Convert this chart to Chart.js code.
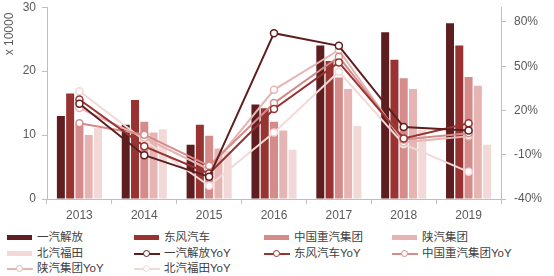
<!DOCTYPE html>
<html>
<head>
<meta charset="utf-8">
<script src="https://cdn.jsdelivr.net/npm/chart.js@4"></script>
<style>
    body { margin: 0; background: #fff; }
    #wrap { position: relative; width: 554px; height: 276px; overflow: hidden; font-family: "Liberation Sans", "Noto Sans CJK SC", sans-serif; }
    #grafico { position: absolute; left: 0; top: -8px; }
    #legenda { position: absolute; left: 0; top: 230px; width: 554px; }
    .item { position: absolute; height: 15px; font-size: 11.5px; color: #404040; line-height: 15px; white-space: nowrap; }
    .item .cx { position: absolute; left: 0; top: 5px; width: 25px; height: 5px; }
    .item .ln { position: absolute; left: 0; top: 6.5px; width: 26px; height: 2px; }
    .item .pt { position: absolute; left: 9px; top: 3.5px; width: 5px; height: 5px; border-radius: 50%; background: #fff; border: 1.5px solid; }
    .item span { position: absolute; left: 30px; top: 0; }
</style>
</head>
<body>
<div id="wrap">
    <canvas id="grafico" width="554" height="236"></canvas>
    <div id="legenda"></div>
</div>
<script>
// dados (x 10000 unidades)
const anos = ['2013', '2014', '2015', '2016', '2017', '2018', '2019'];

const yiqi      = [13.0, 11.6, 8.5, 14.8, 24.0, 26.1, 27.5];
const dongfeng  = [16.5, 15.5, 11.6, 14.2, 21.6, 21.8, 24.0];
const zhongqi   = [11.6, 12.1, 9.9, 12.1, 19.0, 18.9, 19.1];
const shanqi    = [10.0, 10.4, 7.9, 10.7, 17.2, 17.2, 17.7];
const beiqi     = [11.1, 10.9, 7.5, 7.7, 11.4, 10.8, 8.5];

// YoY (%)
const yiqiYoy     = [24.5, -10.3, -25, 72.4, 63.8, 8.8, 6.5];
const dongfengYoy = [27.4, -4.3, -22.7, 21, 52.6, 1, 11.4];
const zhongqiYoy  = [11.4, 3.6, -17.5, 25, 56.4, 0.3, 4.5];
const shanqiYoy   = [21.6, 1.5, -20, 34, 61, -1.5, 2.5];
const beiqiYoy    = [33, -0.2, -31, 5, 46.3, -2.9, -21.6];

const nomes = ['一汽解放', '东风汽车', '中国重汽集团', '陕汽集团', '北汽福田'];
const ticksDireita = [-40, -10, 20, 50, 80];

const CORES = ['#5e1d1f', '#983331', '#d48b89', '#e6b5b3', '#f2d8d7'];
const FONTE = '"Liberation Sans", "Noto Sans CJK SC", sans-serif';

const barras = [yiqi, dongfeng, zhongqi, shanqi, beiqi];
const linhas = [yiqiYoy, dongfengYoy, zhongqiYoy, shanqiYoy, beiqiYoy];

var datasets = [];

for (let i = 0; i < linhas.length; i++) {
    datasets.push({
        type: 'line',
        label: nomes[i] + 'YoY',
        data: linhas[i],
        yAxisID: 'y2',
        borderColor: CORES[i],
        borderWidth: 2,
        pointRadius: 3.5,
        pointBackgroundColor: '#fff',
        pointBorderColor: CORES[i],
        pointBorderWidth: 1.5,
        tension: 0,
        order: 1
    });
}

for (let i = 0; i < barras.length; i++) {
    datasets.push({
        type: 'bar',
        label: nomes[i],
        data: barras[i],
        yAxisID: 'y',
        backgroundColor: CORES[i],
        categoryPercentage: 0.715,
        barPercentage: 0.86,
        order: 2
    });
}

// titulo do eixo esquerdo (canvas esta 8px acima)
const tituloEixo = {
    id: 'tituloEixo',
    afterDraw(chart) {
        const ctx = chart.ctx;
        ctx.save();
        ctx.translate(10, 42);
        ctx.rotate(-Math.PI / 2);
        ctx.font = '12px ' + FONTE;
        ctx.fillStyle = '#595959';
        ctx.textAlign = 'center';
        ctx.textBaseline = 'middle';
        ctx.fillText('x 10000', 0, 0);
        ctx.restore();
    }
};

new Chart(document.getElementById('grafico'), {
    data: { labels: anos, datasets: datasets },
    plugins: [tituloEixo],
    options: {
        responsive: false,
        animation: false,
        layout: { autoPadding: false, padding: 0 },
        plugins: { legend: { display: false }, tooltip: { enabled: false } },
        scales: {
            x: {
                grid: { drawOnChartArea: false, tickLength: 5, color: '#bfbfbf' },
                border: { color: '#bfbfbf' },
                ticks: { color: '#595959', font: { size: 12, family: FONTE }, padding: 4 },
                afterFit: s => { s.height = 29; }
            },
            y: {
                position: 'left',
                min: 0, max: 30,
                grid: { drawOnChartArea: false, tickLength: 5, color: '#bfbfbf' },
                border: { color: '#bfbfbf' },
                ticks: { stepSize: 10, color: '#595959', font: { size: 12, family: FONTE }, padding: 6 },
                afterFit: s => { s.width = 47; }
            },
            y2: {
                position: 'right',
                min: -40, max: 90,
                grid: { drawOnChartArea: false, tickLength: 5, color: '#bfbfbf' },
                border: { color: '#bfbfbf' },
                ticks: {
                    color: '#595959', font: { size: 12, family: FONTE }, padding: 8,
                    callback: v => v + '%'
                },
                afterBuildTicks: s => { s.ticks = ticksDireita.map(v => ({ value: v })); },
                afterFit: s => { s.width = 53; }
            }
        }
    }
});

// legenda em html (4 colunas)
const itensLegenda = [];
for (let i = 0; i < nomes.length; i++) itensLegenda.push({ txt: nomes[i], cor: CORES[i], tipo: 'bar' });
for (let i = 0; i < nomes.length; i++) itensLegenda.push({ txt: nomes[i] + 'YoY', cor: CORES[i], tipo: 'line' });

const colunas = [7, 134, 264, 392];
const legenda = document.getElementById('legenda');
for (let i = 0; i < itensLegenda.length; i++) {
    const it = itensLegenda[i];
    const d = document.createElement('div');
    d.className = 'item';
    d.style.left = colunas[i % 4] + 'px';
    d.style.top = Math.round(Math.floor(i / 4) * 15.5) + 'px';
    if (it.tipo === 'bar') {
        d.innerHTML = '<div class="cx" style="background:' + it.cor + '"></div>';
    } else {
        d.innerHTML = '<div class="ln" style="background:' + it.cor + '"></div>' +
                      '<div class="pt" style="border-color:' + it.cor + '"></div>';
    }
    d.innerHTML += '<span>' + it.txt + '</span>';
    legenda.appendChild(d);
}
</script>
</body>
</html>
